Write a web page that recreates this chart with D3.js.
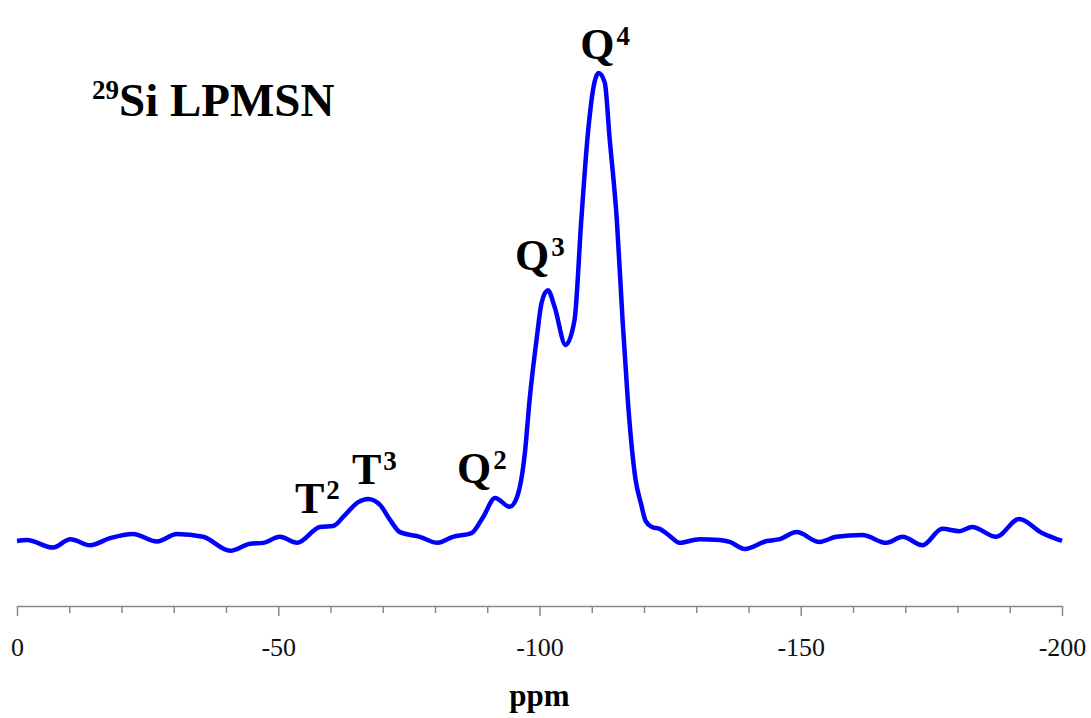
<!DOCTYPE html>
<html>
<head>
<meta charset="utf-8">
<script src="https://cdn.jsdelivr.net/npm/d3@7"></script>
<style>
  body { margin: 0; background: #fff; }
  svg { display: block; }
  text { font-family: "Liberation Serif", "Times New Roman", serif; }
</style>
</head>
<body>
<svg id="svg" width="1091" height="718"></svg>
<script>
// chemical shift (ppm) and intensity (arbitrary, Q4 peak = 100)
const shifts = [0, -1.9, -6.9, -10.2, -14.0, -17.8, -22.2, -26.8, -30.6, -35.6, -40.8, -44.6, -47.1,
  -50.3, -53.6, -58.0, -60.5, -62.8, -65.3, -67.2, -69.5, -71.4, -73.3, -77.1, -80.5, -83.4, -87.0,
  -89.2, -91.5, -94.3, -95.7, -97.2, -98.1, -99.5, -100.4, -101.6, -102.9, -105.0, -106.7, -108.0,
  -109.2, -110.5, -111.3, -112.5, -113.4, -114.8, -115.9, -116.9, -118.4, -119.4, -120.3, -121.5,
  -123.0, -124.9, -126.8, -130.6, -134.5, -136.4, -139.3, -143.5, -146.0, -149.2, -153.6, -156.8,
  -161.8, -166.4, -169.5, -173.3, -177.1, -180.4, -182.8, -187.4, -191.8, -196.2, -200]
const intensity = [0, 0.2, -1.4, 0.4, -0.9, 0.6, 1.5, -0.1, 1.5, 0.9, -2.1, -0.6, -0.4,
  0.9, -0.4, 3.0, 3.2, 5.6, 8.3, 9.0, 7.7, 4.5, 1.9, 0.9, -0.4, 0.9, 1.7,
  5.1, 9.2, 7.3, 9.4, 18.8, 30.1, 43.6, 50.9, 53.6, 50.0, 41.9, 47.2, 68.6,
  86.3, 97.9, 100, 97.9, 86.3, 68.6, 47.2, 30.1, 13.0, 8.1, 4.3, 3.0,
  2.6, 1.1, -0.4, 0.4, 0.2, -0.2, -1.7, 0, 0.4, 1.9, -0.2, 0.9,
  1.3, -0.4, 0.9, -0.9, 2.6, 2.1, 3.0, 0.9, 4.7, 1.7, 0]

// peak assignments: label, superscript, where the label sits (ppm, intensity)
const peakNames = ['T', 'T', 'Q', 'Q', 'Q']
const peakSups = ['2', '3', '2', '3', '4']
const peakPpm = [-53.2, -64.1, -84.2, -95.3, -107.8]
const peakLevel = [6.0, 12.2, 12.4, 57.9, 103]

const xTicks = d3.range(0, -201, -10)

const svg = d3.select('#svg')

const x = d3.scaleLinear()
  .domain([0, -200])
  .range([17, 1062])

const y = d3.scaleLinear()
  .domain([0, 100])
  .range([541, 73])

const data = shifts.map((s, i) => ({ s, v: intensity[i] }))

// axis
const axis = d3.axisBottom(x)
  .tickValues(xTicks)
  .tickSize(7)
  .tickSizeOuter(0)
  .tickFormat(d => d % 50 === 0 ? d : '')

const gx = svg.append('g')
  .attr('transform', 'translate(0, 606)')
  .call(axis)

gx.select('.domain').attr('stroke', '#8a8a8a').attr('stroke-width', 1.5)
gx.selectAll('.tick line')
  .attr('stroke', '#8a8a8a')
  .attr('stroke-width', 1.5)
  .attr('y2', d => d % 50 === 0 ? 10 : 7)
gx.selectAll('.tick text')
  .attr('y', 50)
  .attr('dy', 0)
  .attr('fill', '#111')
  .style('font-size', '26px')
  .style('font-family', '"Liberation Serif", serif')

svg.append('text')
  .attr('x', (x(0) + x(-200)) / 2)
  .attr('y', 706)
  .attr('text-anchor', 'middle')
  .style('font-size', '31px')
  .style('font-weight', 'bold')
  .text('ppm')

// spectrum
const line = d3.line()
  .x(d => x(d.s))
  .y(d => y(d.v))
  .curve(d3.curveMonotoneX)

svg.append('path')
  .datum(data)
  .attr('d', line)
  .attr('fill', 'none')
  .attr('stroke', '#0000ff')
  .attr('stroke-width', 4.5)
  .attr('stroke-linejoin', 'round')

// peak labels
peakNames.forEach((name, i) => {
  const t = svg.append('text')
    .attr('x', x(peakPpm[i]))
    .attr('y', y(peakLevel[i]))
    .style('font-size', '44px')
    .style('font-weight', 'bold')
  t.append('tspan').text(name)
  t.append('tspan')
    .attr('dx', 2)
    .attr('dy', -14)
    .style('font-size', '27px')
    .text(peakSups[i])
})

// title
const title = svg.append('text')
  .attr('x', 92)
  .attr('y', 116)
  .style('font-weight', 'bold')
title.append('tspan')
  .attr('dy', -17)
  .style('font-size', '27px')
  .text('29')
title.append('tspan')
  .attr('dy', 17)
  .style('font-size', '47px')
  .text('Si LPMSN')
</script>
</body>
</html>
